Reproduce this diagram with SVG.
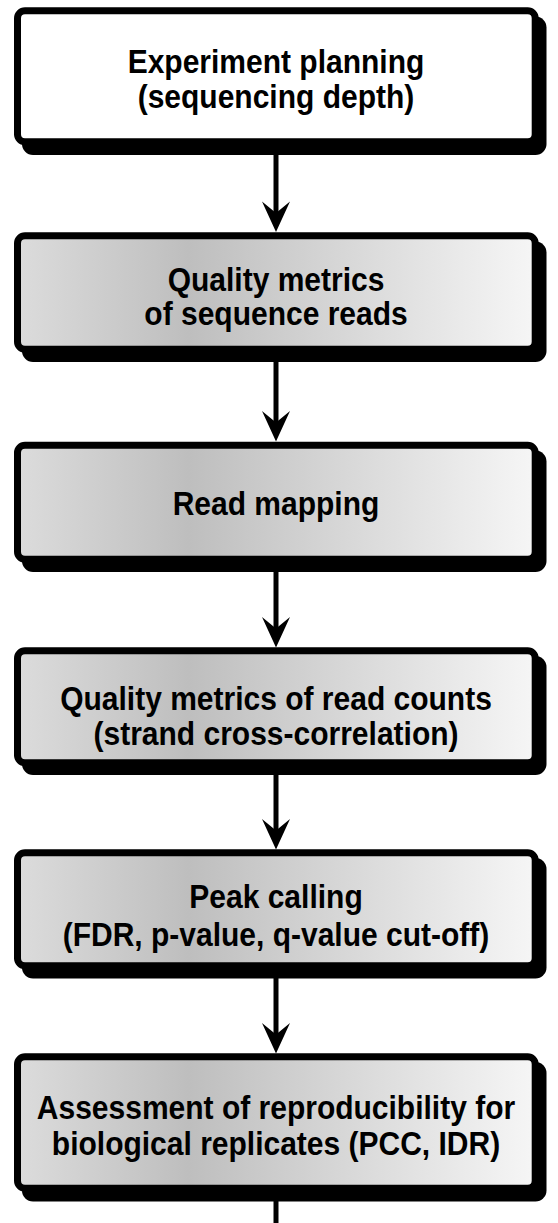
<svg xmlns="http://www.w3.org/2000/svg" width="558" height="1223" viewBox="0 0 558 1223">
<style>
.shadow{fill:#000}
.box{stroke:#000;stroke-width:7}
.white{fill:#fff}
.grad{fill:url(#g)}
.lbl{font-family:"Liberation Sans",Arial,sans-serif;font-weight:bold;font-size:30px;fill:#000;text-anchor:middle}
.line{stroke:#000;stroke-width:5;fill:none}
.head{fill:#000}
</style>
<defs>
<linearGradient id="g" x1="0" y1="0" x2="1" y2="0">
<stop offset="0" stop-color="#dcdcdc"/>
<stop offset="0.33" stop-color="#bebebe"/>
<stop offset="1" stop-color="#f6f6f6"/>
</linearGradient>
</defs>
<rect width="558" height="1223" fill="#fff"/>
<g id="connectors">
<line class="line" x1="276" y1="145" x2="276" y2="215"/>
<polygon class="head" points="262,201.5 276,213 290,201.5 276,232"/>
<line class="line" x1="276" y1="353" x2="276" y2="424"/>
<polygon class="head" points="262,411 276,422.5 290,411 276,441.5"/>
<line class="line" x1="276" y1="563" x2="276" y2="630"/>
<polygon class="head" points="262,617 276,628.5 290,617 276,647.5"/>
<line class="line" x1="276" y1="766" x2="276" y2="832"/>
<polygon class="head" points="262,819 276,830.5 290,819 276,849.5"/>
<line class="line" x1="276" y1="969" x2="276" y2="1036"/>
<polygon class="head" points="262,1023 276,1034.5 290,1023 276,1053.5"/>
<line class="line" x1="276" y1="1192" x2="276" y2="1223"/>
</g>
<g id="n1">
<rect class="shadow" x="22" y="16.5" width="524.5" height="138.5" rx="11"/>
<rect class="box white" x="17.5" y="10.8" width="517.7" height="131" rx="7.5"/>
<text class="lbl" transform="translate(276,73) scale(1,1.08)">Experiment planning</text>
<text class="lbl" transform="translate(276,108) scale(1,1.08)">(sequencing depth)</text>
</g>
<g id="n2">
<rect class="shadow" x="22" y="241.5" width="524.5" height="120.5" rx="11"/>
<rect class="box grad" x="17.5" y="235.8" width="517.7" height="113.5" rx="7.5"/>
<text class="lbl" transform="translate(276,291) scale(1,1.08)">Quality metrics</text>
<text class="lbl" transform="translate(276,325) scale(1,1.08)">of sequence reads</text>
</g>
<g id="n3">
<rect class="shadow" x="22" y="450.5" width="524.5" height="121.5" rx="11"/>
<rect class="box grad" x="17.5" y="445.2" width="517.7" height="114" rx="7.5"/>
<text class="lbl" transform="translate(276,515) scale(1,1.08)">Read mapping</text>
</g>
<g id="n4">
<rect class="shadow" x="22" y="656" width="524.5" height="119" rx="11"/>
<rect class="box grad" x="17.5" y="650.8" width="517.7" height="112" rx="7.5"/>
<text class="lbl" transform="translate(276,710) scale(1,1.08)">Quality metrics of read counts</text>
<text class="lbl" transform="translate(276,745) scale(1,1.08)">(strand cross-correlation)</text>
</g>
<g id="n5">
<rect class="shadow" x="22" y="858" width="524.5" height="120.5" rx="11"/>
<rect class="box grad" x="17.5" y="852.8" width="517.7" height="113" rx="7.5"/>
<text class="lbl" transform="translate(276,908) scale(1,1.08)">Peak calling</text>
<text class="lbl" transform="translate(276,946) scale(1,1.08)">(FDR, p-value, q-value cut-off)</text>
</g>
<g id="n6">
<rect class="shadow" x="22" y="1062" width="524.5" height="139.5" rx="11"/>
<rect class="box grad" x="17.5" y="1056.8" width="517.7" height="131.5" rx="7.5"/>
<text class="lbl" transform="translate(276,1119) scale(1,1.08)">Assessment of reproducibility for</text>
<text class="lbl" transform="translate(276,1155) scale(1,1.08)">biological replicates (PCC, IDR)</text>
</g>
</svg>
